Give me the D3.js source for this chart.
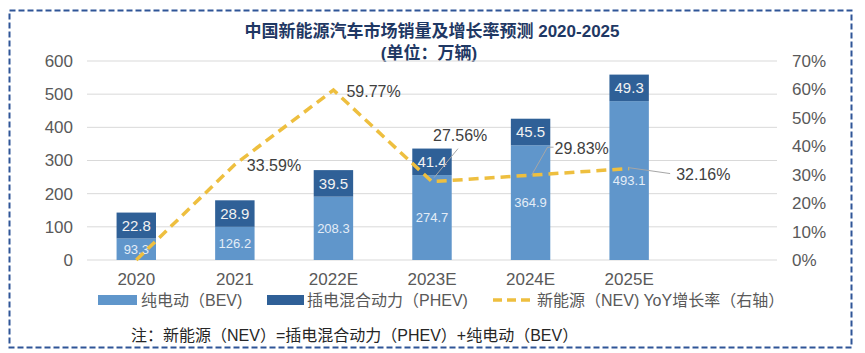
<!DOCTYPE html>
<html>
<head>
<meta charset="utf-8">
<script src="https://cdn.jsdelivr.net/npm/d3@7"></script>
<style>
    body { margin: 0; background: #fff; }
    text { font-family: "Liberation Sans", "Noto Sans CJK SC", sans-serif; }
</style>
</head>
<body>
<svg id="chart" width="865" height="353"></svg>
<script>
let years = ["2020", "2021", "2022E", "2023E", "2024E", "2025E"];
let bevLabels = ["93.3", "126.2", "208.3", "274.7", "364.9", "493.1"];
let phevLabels = ["22.8", "28.9", "39.5", "41.4", "45.5", "49.3"];
// segment heights as they are drawn in the picture (万辆, left axis)
let bevHeights = [65, 100, 191, 256, 346, 479];
let phevHeights = [78, 80, 80, 80, 80, 80];
let yoy = [0, 33.59, 59.77, 27.56, 29.83, 32.16];
let yoyLabels = ["", "33.59%", "59.77%", "27.56%", "29.83%", "32.16%"];
let leftTicks = [0, 100, 200, 300, 400, 500, 600];
let rightTicks = [0, 10, 20, 30, 40, 50, 60, 70];

let svg = d3.select("#chart");

let margin = { left: 87, right: 777, top: 61, bottom: 260 };

// border
svg.append("rect")
    .attr("x", 9.5).attr("y", 10.5)
    .attr("width", 842).attr("height", 337)
    .attr("fill", "none")
    .attr("stroke", "#2f5597")
    .attr("stroke-width", 2)
    .attr("stroke-dasharray", "6,3");

// title
svg.append("text")
    .attr("x", 432).attr("y", 37)
    .attr("text-anchor", "middle")
    .attr("font-size", "17px").attr("font-weight", "bold")
    .attr("fill", "#1f3864")
    .text("中国新能源汽车市场销量及增长率预测 2020-2025");
svg.append("text")
    .attr("x", 429).attr("y", 59)
    .attr("text-anchor", "middle")
    .attr("font-size", "17px").attr("font-weight", "bold")
    .attr("fill", "#1f3864")
    .text("(单位：万辆)");

// scales: Excel leaves one empty slot after the last year
let x = d3.scaleBand()
    .domain(years.concat([""]))
    .range([margin.left, margin.right])
    .paddingInner(0.6)
    .paddingOuter(0.3);

let yLeft = d3.scaleLinear().domain([0, 600]).range([margin.bottom, margin.top]);
let yRight = d3.scaleLinear().domain([0, 70]).range([margin.bottom, margin.top]);

// gridlines
svg.append("g")
    .selectAll("line")
    .data(leftTicks)
    .enter()
    .append("line")
    .attr("x1", margin.left).attr("x2", margin.right)
    .attr("y1", d => yLeft(d)).attr("y2", d => yLeft(d))
    .attr("stroke", "#d9d9d9").attr("stroke-width", 1);

// left axis
let leftAxis = svg.append("g")
    .attr("transform", `translate(${margin.left - 14}, 0)`)
    .call(d3.axisLeft(yLeft).tickValues(leftTicks).tickSize(0).tickPadding(0));
leftAxis.select(".domain").remove();

// right axis
let rightAxis = svg.append("g")
    .attr("transform", `translate(${margin.right + 15}, 0)`)
    .call(d3.axisRight(yRight).tickValues(rightTicks).tickSize(0).tickPadding(0).tickFormat(d => d + "%"));
rightAxis.select(".domain").remove();

// bottom axis
let bottomAxis = svg.append("g")
    .attr("transform", `translate(0, ${margin.bottom})`)
    .call(d3.axisBottom(x).tickSize(0).tickPadding(13));
bottomAxis.select(".domain").remove();

svg.selectAll("g").attr("font-family", null);
svg.selectAll(".tick text")
    .attr("font-size", "17px").attr("fill", "#595959");

let rows = years.map((y, i) => ({
    year: y, bev: bevHeights[i], phev: phevHeights[i],
    bevLabel: bevLabels[i], phevLabel: phevLabels[i]
}));

// BEV bars
svg.append("g").selectAll("rect")
    .data(rows).enter().append("rect")
    .attr("x", d => x(d.year))
    .attr("width", x.bandwidth())
    .attr("y", d => yLeft(d.bev))
    .attr("height", d => yLeft(0) - yLeft(d.bev))
    .attr("fill", "#6096cb");

// PHEV bars
svg.append("g").selectAll("rect")
    .data(rows).enter().append("rect")
    .attr("x", d => x(d.year))
    .attr("width", x.bandwidth())
    .attr("y", d => yLeft(d.bev + d.phev))
    .attr("height", d => yLeft(d.bev) - yLeft(d.bev + d.phev))
    .attr("fill", "#2f6097");

// bar labels
svg.append("g").selectAll("text")
    .data(rows).enter().append("text")
    .attr("x", d => x(d.year) + x.bandwidth() / 2)
    .attr("y", d => yLeft(d.bev / 2))
    .attr("dy", "0.35em")
    .attr("text-anchor", "middle")
    .attr("font-size", "13px").attr("fill", "#e4edf7")
    .text(d => d.bevLabel);

svg.append("g").selectAll("text")
    .data(rows).enter().append("text")
    .attr("x", d => x(d.year) + x.bandwidth() / 2)
    .attr("y", d => yLeft(d.bev + d.phev / 2))
    .attr("dy", "0.35em")
    .attr("text-anchor", "middle")
    .attr("font-size", "15px").attr("fill", "#f2f2f2")
    .text(d => d.phevLabel);

// growth line
let pts = years.map((y, i) => ({ x: x(y) + x.bandwidth() / 2, y: yRight(yoy[i]), label: yoyLabels[i] }));

let line = d3.line().x(d => d.x).y(d => d.y);
svg.append("path")
    .datum(pts)
    .attr("d", line)
    .attr("fill", "none")
    .attr("stroke", "#eebf3f")
    .attr("stroke-width", 3.5)
    .attr("stroke-dasharray", "10,6");

// label placement (offset of label start from the point, and leader path)
let labelOffsets = [
    null,
    { dx: 12, dy: 1 },
    { dx: 13, dy: 1 },
    { dx: 1, dy: -46, leader: [[2, -4], [26, -33]] },
    { dx: 24, dy: -27, leader: [[1, 0], [17, -28], [23, -28]] },
    { dx: 47, dy: 6, leader: [[-1, -1], [41, 5]] }
];

pts.forEach(function (p, i) {
    let o = labelOffsets[i];
    if (!o) return;
    if (o.leader) {
        svg.append("path")
            .attr("d", d3.line()(o.leader.map(q => [p.x + q[0], p.y + q[1]])))
            .attr("fill", "none")
            .attr("stroke", "#a6a6a6")
            .attr("stroke-width", 1);
    }
    svg.append("text")
        .attr("x", p.x + o.dx)
        .attr("y", p.y + o.dy)
        .attr("dy", "0.35em")
        .attr("font-size", "16px")
        .attr("fill", "#404040")
        .text(p.label);
});

// legend
let legend = svg.append("g").attr("font-size", "16px").attr("fill", "#595959");
legend.append("rect").attr("x", 98).attr("y", 295).attr("width", 39).attr("height", 10).attr("fill", "#6096cb");
legend.append("text").attr("x", 141).attr("y", 300).attr("dy", "0.35em").text("纯电动（BEV)");
legend.append("rect").attr("x", 267).attr("y", 295).attr("width", 37).attr("height", 10).attr("fill", "#2f6097");
legend.append("text").attr("x", 307).attr("y", 300).attr("dy", "0.35em").text("插电混合动力（PHEV)");
legend.append("line")
    .attr("x1", 493).attr("x2", 532).attr("y1", 300).attr("y2", 300)
    .attr("stroke", "#eebf3f").attr("stroke-width", 3.5).attr("stroke-dasharray", "9,5");
legend.append("text").attr("x", 537).attr("y", 300).attr("dy", "0.35em").text("新能源（NEV) YoY增长率（右轴）");

// note
svg.append("text")
    .attr("x", 131).attr("y", 335)
    .attr("dy", "0.35em")
    .attr("font-size", "16px")
    .attr("fill", "#262626")
    .text("注：新能源（NEV）=插电混合动力（PHEV）+纯电动（BEV）");
</script>
</body>
</html>
